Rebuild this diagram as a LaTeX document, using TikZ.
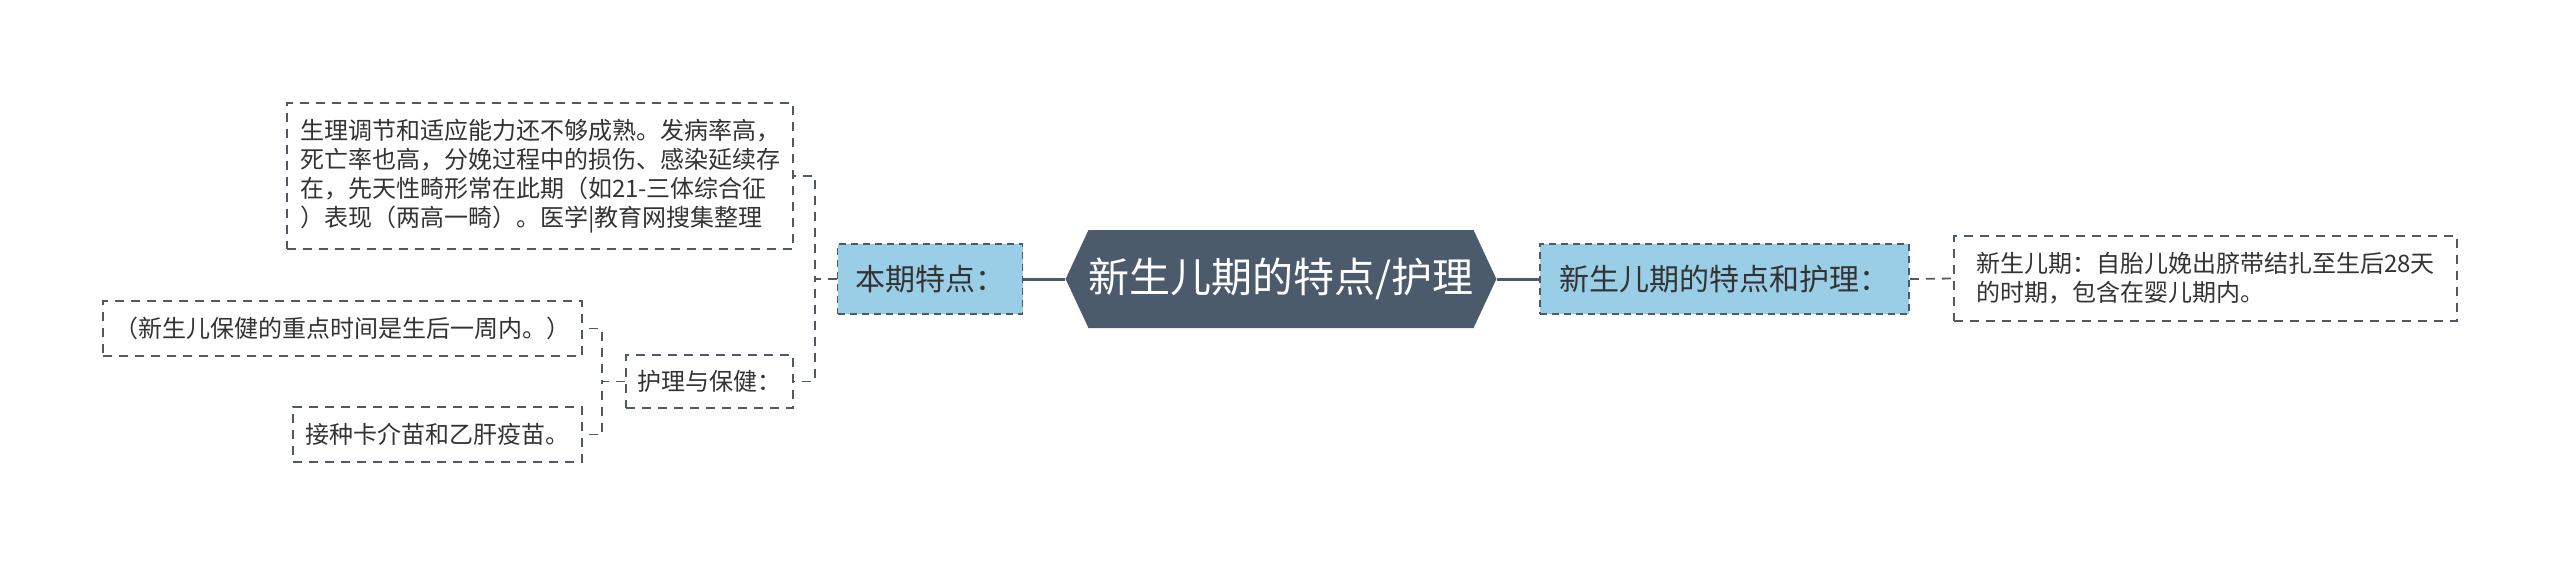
\documentclass[tikz,border=0pt]{standalone}
\usepackage{fontspec}
\setmainfont{Noto Sans CJK SC}
\usetikzlibrary{shapes.symbols, positioning}
\definecolor{slate}{HTML}{4B5B6B}
\definecolor{skyfill}{HTML}{9ACDE6}
\definecolor{inkgray}{HTML}{333333}
\definecolor{edgegray}{HTML}{505A64}

\begin{document}
\begin{tikzpicture}[x=1pt, y=-1pt,
  rootnode/.style = {signal, signal to=west and east, signal pointer angle=130,
    fill=slate, text=white, inner sep=0pt, minimum width=428pt, minimum height=98pt,
    font=\fontsize{41}{48}\selectfont},
  branch/.style   = {draw=slate, fill=skyfill, text=inkgray, line width=1.8pt,
    dash pattern=on 7pt off 5pt, inner sep=0pt, font=\fontsize{30}{38}\selectfont},
  leaf/.style     = {draw=edgegray, line width=1.8pt, dash pattern=on 9pt off 7pt,
    text=inkgray, inner sep=0pt, align=left, font=\fontsize{24}{29}\selectfont},
  trunk/.style    = {draw=slate, line width=3pt},
  twig/.style     = {draw=edgegray, line width=1.8pt, dash pattern=on 9pt off 7pt},
]
  \useasboundingbox (0,0) rectangle (2560,565);

  \node[rootnode] (root) at (1281,279) {新生儿期的特点/护理};

  % left side
  \node[branch, minimum width=185pt, minimum height=70pt] (features) at (930,279) {本期特点：};
  \node[leaf, minimum width=506pt, minimum height=146pt] (featText) at (540,176)
    {生理调节和适应能力还不够成熟。发病率高，\\
     死亡率也高，分娩过程中的损伤、感染延续存\\
     在，先天性畸形常在此期（如21-三体综合征\\
     ）表现（两高一畸）。医学|教育网搜集整理};
  \node[leaf, minimum width=167pt, minimum height=53pt] (care) at (709.5,381.5) {护理与保健：};
  \node[leaf, minimum width=479pt, minimum height=55pt] (careWeek) at (342.5,328.5)
    {（新生儿保健的重点时间是生后一周内。）};
  \node[leaf, minimum width=289pt, minimum height=55pt] (careVacc) at (437.5,434.5)
    {接种卡介苗和乙肝疫苗。};

  % right side
  \node[branch, minimum width=369pt, minimum height=70pt] (period) at (1724.5,279) {新生儿期的特点和护理：};
  \node[leaf, minimum width=503pt, minimum height=85pt] (periodText) at (2205.5,278.5)
    {新生儿期：自胎儿娩出脐带结扎至生后28天\\
     的时期，包含在婴儿期内。};

  \draw[trunk] (root.west) -- (features.east);
  \draw[trunk] (root.east) -- (period.west);

  \draw[twig] (features.west) -- ++(-22,0) |- (featText.east);
  \draw[twig] (features.west) -- ++(-22,0) |- (care.east);
  \draw[twig] (care.west) -- ++(-23,0) |- (careWeek.east);
  \draw[twig] (care.west) -- ++(-23,0) |- (careVacc.east);
  \draw[twig] (period.east) -- (periodText.west);
\end{tikzpicture}
\end{document}
